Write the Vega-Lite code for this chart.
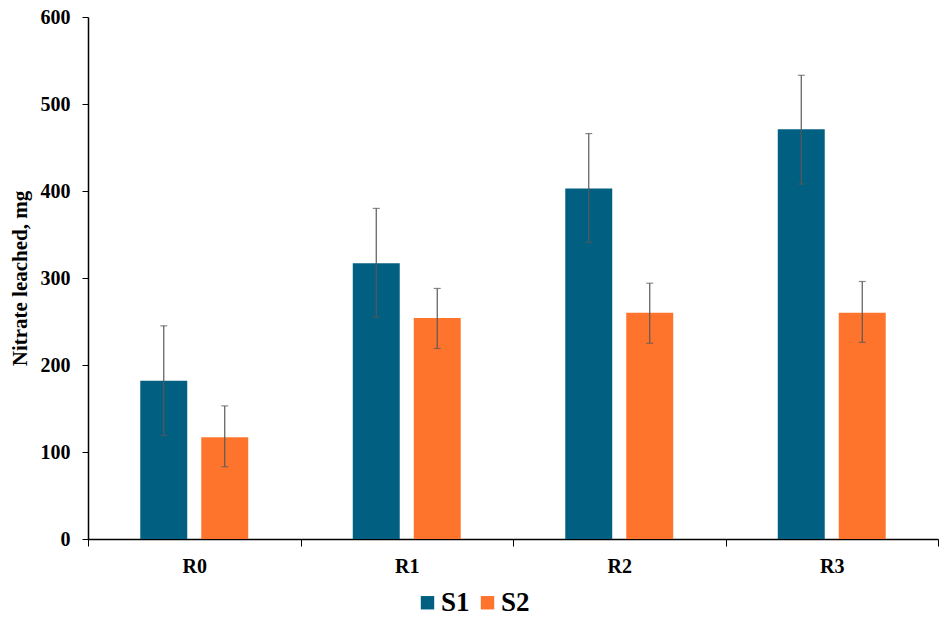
{
  "$schema": "https://vega.github.io/schema/vega-lite/v6.json",
  "autosize": "none",
  "padding": {"left": 88, "top": 17, "right": 10, "bottom": 81},
  "width": 850,
  "height": 522,
  "config": {
    "font": "Liberation Serif",
    "view": {"stroke": null},
    "axis": {"labelFont": "Liberation Serif", "titleFont": "Liberation Serif", "labelFontWeight": "bold", "titleFontWeight": "bold", "labelColor": "black", "titleColor": "black", "domainColor": "black", "tickColor": "black", "grid": false}
  },
  "data": {
    "values": [
      {"Treatment": "R0", "Series": "S1", "Nitrate": 182, "lo": 119, "hi": 245},
      {"Treatment": "R0", "Series": "S2", "Nitrate": 117, "lo": 83, "hi": 153},
      {"Treatment": "R1", "Series": "S1", "Nitrate": 317, "lo": 255, "hi": 380},
      {"Treatment": "R1", "Series": "S2", "Nitrate": 254, "lo": 219, "hi": 288},
      {"Treatment": "R2", "Series": "S1", "Nitrate": 403, "lo": 341, "hi": 466},
      {"Treatment": "R2", "Series": "S2", "Nitrate": 260, "lo": 225, "hi": 294},
      {"Treatment": "R3", "Series": "S1", "Nitrate": 471, "lo": 408, "hi": 533},
      {"Treatment": "R3", "Series": "S2", "Nitrate": 260, "lo": 226, "hi": 296}
    ]
  },
  "encoding": {
    "x": {
      "field": "Treatment",
      "type": "nominal",
      "title": null,
      "scale": {"paddingInner": 0, "paddingOuter": 0},
      "axis": {"labelAngle": 0, "tickBand": "extent", "tickSize": 7, "labelFontSize": 20, "labelPadding": 10, "domainWidth": 1.5}
    },
    "xOffset": {
      "field": "Series",
      "type": "nominal",
      "scale": {"paddingInner": 0.23, "paddingOuter": 0.857}
    }
  },
  "layer": [
    {
      "mark": {"type": "bar"},
      "encoding": {
        "y": {
          "field": "Nitrate",
          "type": "quantitative",
          "title": "Nitrate leached, mg",
          "scale": {"domain": [0, 600], "nice": false},
          "axis": {"values": [0, 100, 200, 300, 400, 500, 600], "tickSize": 6, "labelFontSize": 20, "titleFontSize": 21, "labelPadding": 12, "titlePadding": 10, "domainWidth": 1.5}
        },
        "color": {
          "field": "Series",
          "type": "nominal",
          "title": null,
          "scale": {"domain": ["S1", "S2"], "range": ["#015F82", "#FF742D"]},
          "legend": {"orient": "none", "legendX": 326, "legendY": 572, "direction": "horizontal", "symbolType": "square", "symbolSize": 180, "symbolStrokeWidth": 0, "labelFontSize": 27, "labelFont": "Liberation Serif", "labelFontWeight": "bold", "labelColor": "black", "labelOffset": 0, "columnPadding": 4}
        }
      }
    },
    {
      "mark": {"type": "rule", "color": "#595959", "strokeWidth": 1.2},
      "encoding": {
        "y": {"field": "lo", "type": "quantitative"},
        "y2": {"field": "hi"}
      }
    },
    {
      "mark": {"type": "tick", "orient": "horizontal", "color": "#595959", "size": 7, "thickness": 1.2},
      "encoding": {
        "y": {"field": "lo", "type": "quantitative"}
      }
    },
    {
      "mark": {"type": "tick", "orient": "horizontal", "color": "#595959", "size": 7, "thickness": 1.2},
      "encoding": {
        "y": {"field": "hi", "type": "quantitative"}
      }
    }
  ]
}
